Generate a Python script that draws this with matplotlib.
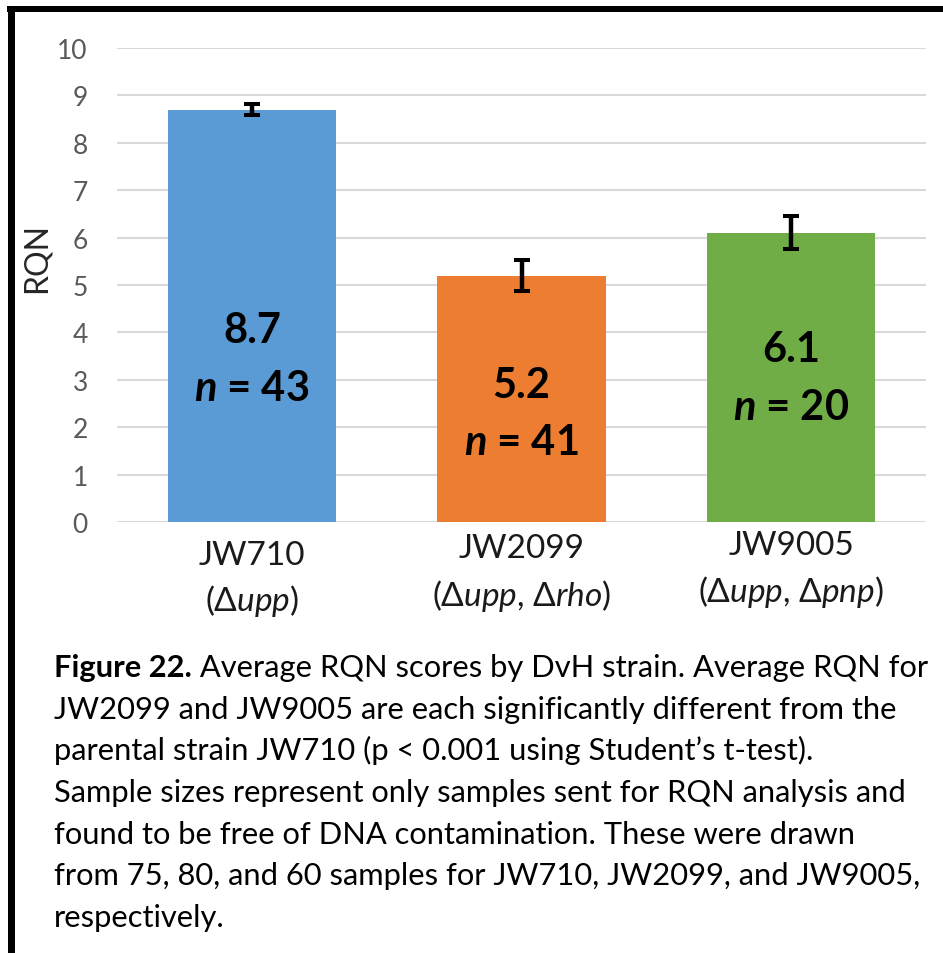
import matplotlib
matplotlib.use("Agg")
import matplotlib.pyplot as plt
from matplotlib.patches import Rectangle
import matplotlib.transforms as mtransforms

plt.rcParams['font.family'] = ['Lato', 'DejaVu Sans']
plt.rcParams['mathtext.fontset'] = 'custom'
plt.rcParams['mathtext.rm'] = 'Lato'
plt.rcParams['mathtext.it'] = 'Lato:italic'
plt.rcParams['mathtext.bf'] = 'Lato:bold'
plt.rcParams['mathtext.bfit'] = 'Lato:italic:bold'

# data
strains = ["JW710", "JW2099", "JW9005"]
genotypes = [r"(Δ$\mathit{upp}$)", r"(Δ$\mathit{upp}$, Δ$\mathit{rho}$)", r"(Δ$\mathit{upp}$, Δ$\mathit{pnp}$)"]
rqn_mean = [8.7, 5.2, 6.1]
rqn_err = [0.12, 0.33, 0.35]
n_samples = [43, 41, 20]
bar_colors = ["#5B9BD5", "#ED7D31", "#70AD47"]
yticks = list(range(0, 11))

caption_bold = "Figure 22."
caption_lines = [
    " Average RQN scores by DvH strain. Average RQN for",
    "JW2099 and JW9005 are each significantly different from the",
    "parental strain JW710 (p < 0.001 using Student’s t-test).",
    "Sample sizes represent only samples sent for RQN analysis and",
    "found to be free of DNA contamination. These were drawn",
    "from 75, 80, and 60 samples for JW710, JW2099, and JW9005,",
    "respectively.",
]

W, H = 943, 954
fig = plt.figure(figsize=(W / 100, H / 100), dpi=100)
ax = fig.add_axes([117 / W, 1 - 523 / H, 809 / W, 474 / H])

x = list(range(len(strains)))
ax.bar(x, rqn_mean, width=0.623, color=bar_colors, zorder=2)
ax.errorbar(x, rqn_mean, yerr=rqn_err, fmt='none', ecolor='black',
            elinewidth=3.2, capsize=5.8, capthick=2.9, zorder=3)

ax.set_xlim(-0.5, 2.5)
ax.set_ylim(0, 10)
ax.set_yticks(yticks)
ax.yaxis.grid(True, color='#D9D9D9', lw=1.5, zorder=0)
ax.set_axisbelow(True)
for s in ax.spines.values():
    s.set_visible(False)
ax.tick_params(axis='y', length=0, pad=21, labelsize=19, labelcolor='#595959')
ax.set_xticks([])

# value and n labels inside bars (baselines in data units)
value_y = [3.80, 2.64, 3.40]
n_y = [2.57, 1.43, 2.17]
for i in x:
    ax.text(i, value_y[i], f"{rqn_mean[i]:.1f}", ha='center', va='baseline',
            fontsize=30, fontweight='bold', color='black', zorder=4)
    ax.text(i, n_y[i], rf"$\mathbfit{{n}}$ = {n_samples[i]}", ha='center', va='baseline',
            fontsize=30, fontweight='bold', color='black', zorder=4)

# category labels, slightly staggered as in the original
name_y = [-0.886, -0.74, -0.68]
geno_y = [-1.857, -1.75, -1.66]
for i in x:
    ax.text(i, name_y[i], strains[i], ha='center', va='baseline', fontsize=24, color='#1a1a1a')
    ax.text(i, geno_y[i], genotypes[i], ha='center', va='baseline', fontsize=24, color='#1a1a1a')

fig.text(37 / W, 1 - 258 / H, "RQN", rotation=90, ha='center', va='center',
         fontsize=23, color='#262626')

# caption
cap_x = 54 / W
base0 = 677
step = 41.7
cap_size = 22.2
bold = fig.text(cap_x, 1 - base0 / H, caption_bold, fontsize=cap_size, fontweight='bold',
                va='baseline', ha='left')
fig.canvas.draw()
bb = bold.get_window_extent()
for k, line in enumerate(caption_lines):
    if k == 0:
        tr = mtransforms.offset_copy(fig.transFigure, fig=fig, x=bb.width, y=0, units='dots')
    else:
        tr = fig.transFigure
    fig.text(cap_x, 1 - (base0 + step * k) / H, line, fontsize=cap_size, va='baseline',
             ha='left', transform=tr)

# black frame (top and left edges visible in the crop)
fig.add_artist(Rectangle((7 / W, 1 - 13 / H), (W - 7) / W, 6 / H,
                         transform=fig.transFigure, color='black', lw=0))
fig.add_artist(Rectangle((8 / W, 0), 7 / W, 1 - 7 / H,
                         transform=fig.transFigure, color='black', lw=0))

fig.savefig("out.png", dpi=100)
